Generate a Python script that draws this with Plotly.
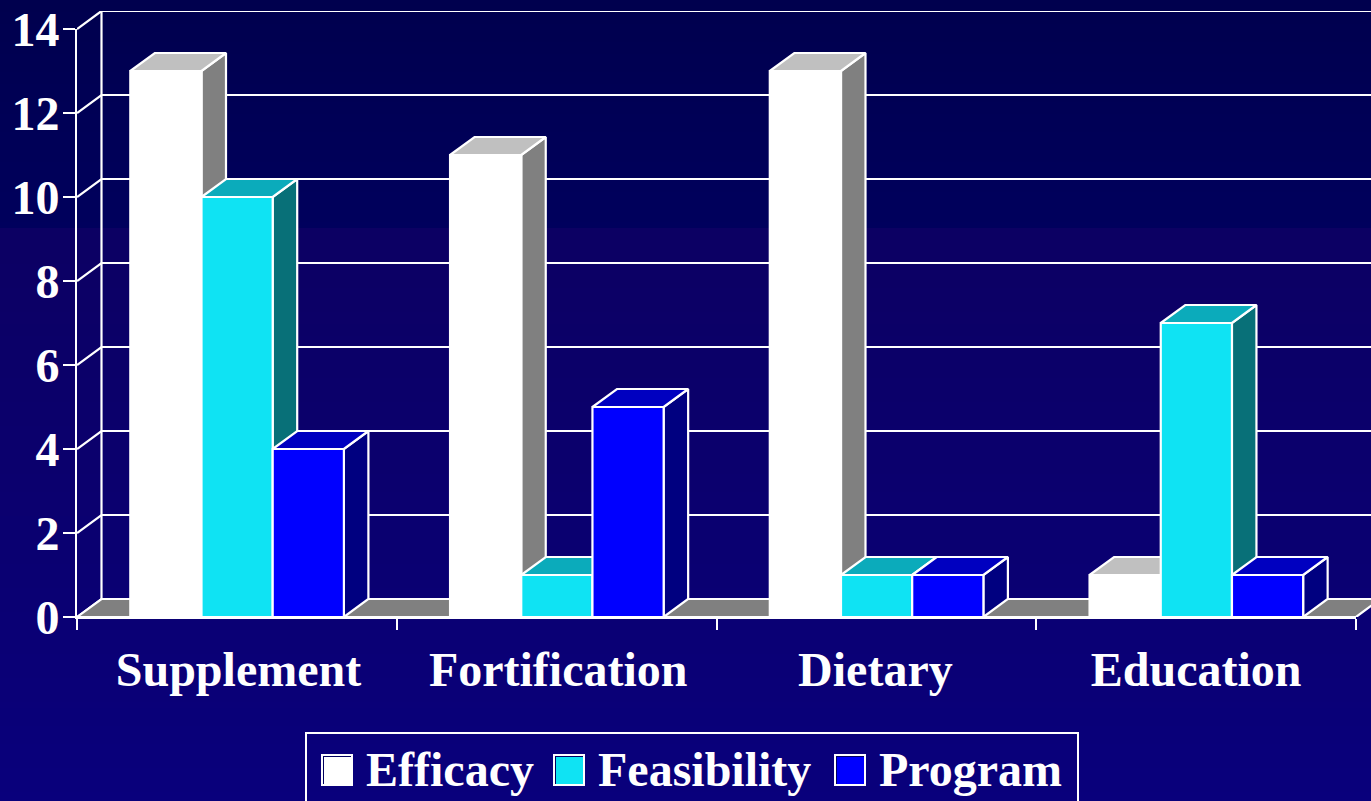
import plotly.graph_objects as go

categories = ["Supplement", "Fortification", "Dietary", "Education"]
efficacy = [13, 11, 13, 1]
feasibility = [10, 1, 1, 7]
program = [4, 5, 1, 1]
y_ticks = [0, 2, 4, 6, 8, 10, 12, 14]
category_tick_positions = [0.505, 1.505, 2.497, 3.5]

W, H = 1371, 801
L, T, B = 77, 11, 184
FULL_W, FULL_H = W - L, H - T - B      # drawing area, holds the 3D walls
PW, PH = 1279, 588                     # front plane of the axes
X_MAX, Y_MAX = 4, 14
UX, UY = PW / X_MAX, PH / Y_MAX
DX = 24.5 / UX
DY = 18 / UY
BAR_OFFSET = 53.3 / UX
BAR_W = 71.2 / UX
WHITE = "#ffffff"
LW = 2.2
FONT = "Liberation Serif"
FS = 48

series = [
    ("Efficacy", efficacy, "#ffffff", "#c0c0c0", "#808080"),
    ("Feasibility", feasibility, "#0fe3f3", "#0babbb", "#087078"),
    ("Program", program, "#0000ff", "#0000c0", "#000080"),
]


def px(x):
    return (x - L) / FULL_W


def py(y):
    return (H - B - y) / FULL_H


def band_colour(y):
    if y < 228:
        t = y / 228
        return f"rgb(0,0,{round(78 + 15 * t)})"
    t = (y - 228) / (H - 228)
    return f"rgb({round(12 - 3 * t)},0,{round(99 + 25 * t)})"


shapes = []
STEP = 6
for y in range(0, H, STEP):
    shapes.append(dict(type="rect", xref="paper", yref="paper", layer="below",
                       x0=px(0), x1=px(W), y0=py(y), y1=py(y + STEP + 1),
                       line_width=0, fillcolor=band_colour(y)))


def poly(xs, ys, fill, name):
    return go.Scatter(x=xs + xs[:1], y=ys + ys[:1], mode="lines", fill="toself",
                      fillcolor=fill, line=dict(color=WHITE, width=LW), xaxis="x2", yaxis="y2",
                      hoverinfo="skip", showlegend=False, name=name)


fig = go.Figure()

# keeps the visible front-plane axes on the page
fig.add_trace(go.Scatter(x=[0, X_MAX], y=[0, Y_MAX], mode="markers", marker=dict(opacity=0),
                         hoverinfo="skip", showlegend=False, name="axes"))

# back wall and side wall lines
far_right = FULL_W / UX
wx, wy = [], []
for t in y_ticks:
    wx += [0, DX, far_right, None]
    wy += [t, t + DY, t + DY, None]
wx += [DX, DX]
wy += [DY, Y_MAX + DY]
fig.add_trace(go.Scatter(x=wx, y=wy, mode="lines", line=dict(color=WHITE, width=LW),
                         xaxis="x2", yaxis="y2", hoverinfo="skip", showlegend=False, name="walls"))

# floor
fig.add_trace(poly([0, DX, X_MAX + DX, X_MAX], [0, DY, DY, 0], "#808080", "floor"))

# bars, left to right so nearer faces cover farther ones
for c in range(len(categories)):
    for s, (name, vals, front, top, side) in enumerate(series):
        v = vals[c]
        x0 = c + BAR_OFFSET + s * BAR_W
        x1 = x0 + BAR_W
        fig.add_trace(poly([x1, x1 + DX, x1 + DX, x1], [0, DY, v + DY, v], side, name))
        fig.add_trace(poly([x0, x0 + DX, x1 + DX, x1], [v, v + DY, v + DY, v], top, name))
        fig.add_trace(poly([x0, x1, x1, x0], [0, 0, v, v], front, name))


def box(x0, x1, y0, y1, fill):
    return dict(type="rect", xref="paper", yref="paper", x0=px(x0), x1=px(x1),
                y0=py(y0), y1=py(y1), line_width=0, fillcolor=fill)


# legend
annotations = []
shapes.append(dict(type="rect", xref="paper", yref="paper", x0=px(306), x1=px(1078),
                   y0=py(733), y1=py(815), line=dict(color=WHITE, width=2), fillcolor="rgba(0,0,0,0)"))
swatch_x = [321, 553, 834]
label_x = [364, 596, 877]
for (name, _, front, _, _), sx, lx in zip(series, swatch_x, label_x):
    shapes.append(box(sx, sx + 32, 754, 786, WHITE))
    shapes.append(box(sx + 2, sx + 30, 756, 784, "#000060"))
    shapes.append(box(sx + 3, sx + 30, 757, 784, front))
    annotations.append(dict(xref="paper", yref="paper", x=px(lx), y=py(769), text=f"<b>{name}</b>",
                            xanchor="left", yanchor="middle", showarrow=False,
                            font=dict(family=FONT, size=48, color=WHITE)))

fig.update_layout(
    template="none",
    width=W, height=H, margin=dict(l=L, r=0, t=T, b=B, pad=0),
    paper_bgcolor="#0a007a", plot_bgcolor="rgba(0,0,0,0)",
    showlegend=False, shapes=shapes, annotations=annotations,
    font=dict(family=FONT, size=FS, color=WHITE),
    xaxis=dict(domain=[0, PW / FULL_W], range=[0, X_MAX], tickvals=category_tick_positions, automargin=False,
               ticktext=[f"<b>{c}</b>" for c in categories], ticks="outside", ticklen=9,
               tickcolor="rgba(0,0,0,0)", showline=True, linecolor=WHITE, linewidth=2,
               showgrid=False, zeroline=False,
               minor=dict(tickvals=[0, 1, 2, 3, 4], ticks="outside", ticklen=11,
                          tickcolor=WHITE, tickwidth=2, showgrid=False)),
    yaxis=dict(domain=[0, PH / FULL_H], range=[0, Y_MAX], tickvals=y_ticks,
               ticktext=[f"<b>{t}</b>" for t in y_ticks], automargin=False,
               ticks="outside", ticklen=12, tickcolor=WHITE, tickwidth=2, ticklabelstandoff=-6,
               showline=True, linecolor=WHITE, linewidth=2, showgrid=False, zeroline=False),
    xaxis2=dict(domain=[0, 1], range=[0, FULL_W / UX], anchor="y2", visible=False),
    yaxis2=dict(domain=[0, 1], range=[0, FULL_H / UY], anchor="x2", visible=False),
)

fig.write_html("out.html", config=dict(displayModeBar=False),
               post_script="document.body.style.margin='0';document.body.style.overflow='hidden';")
